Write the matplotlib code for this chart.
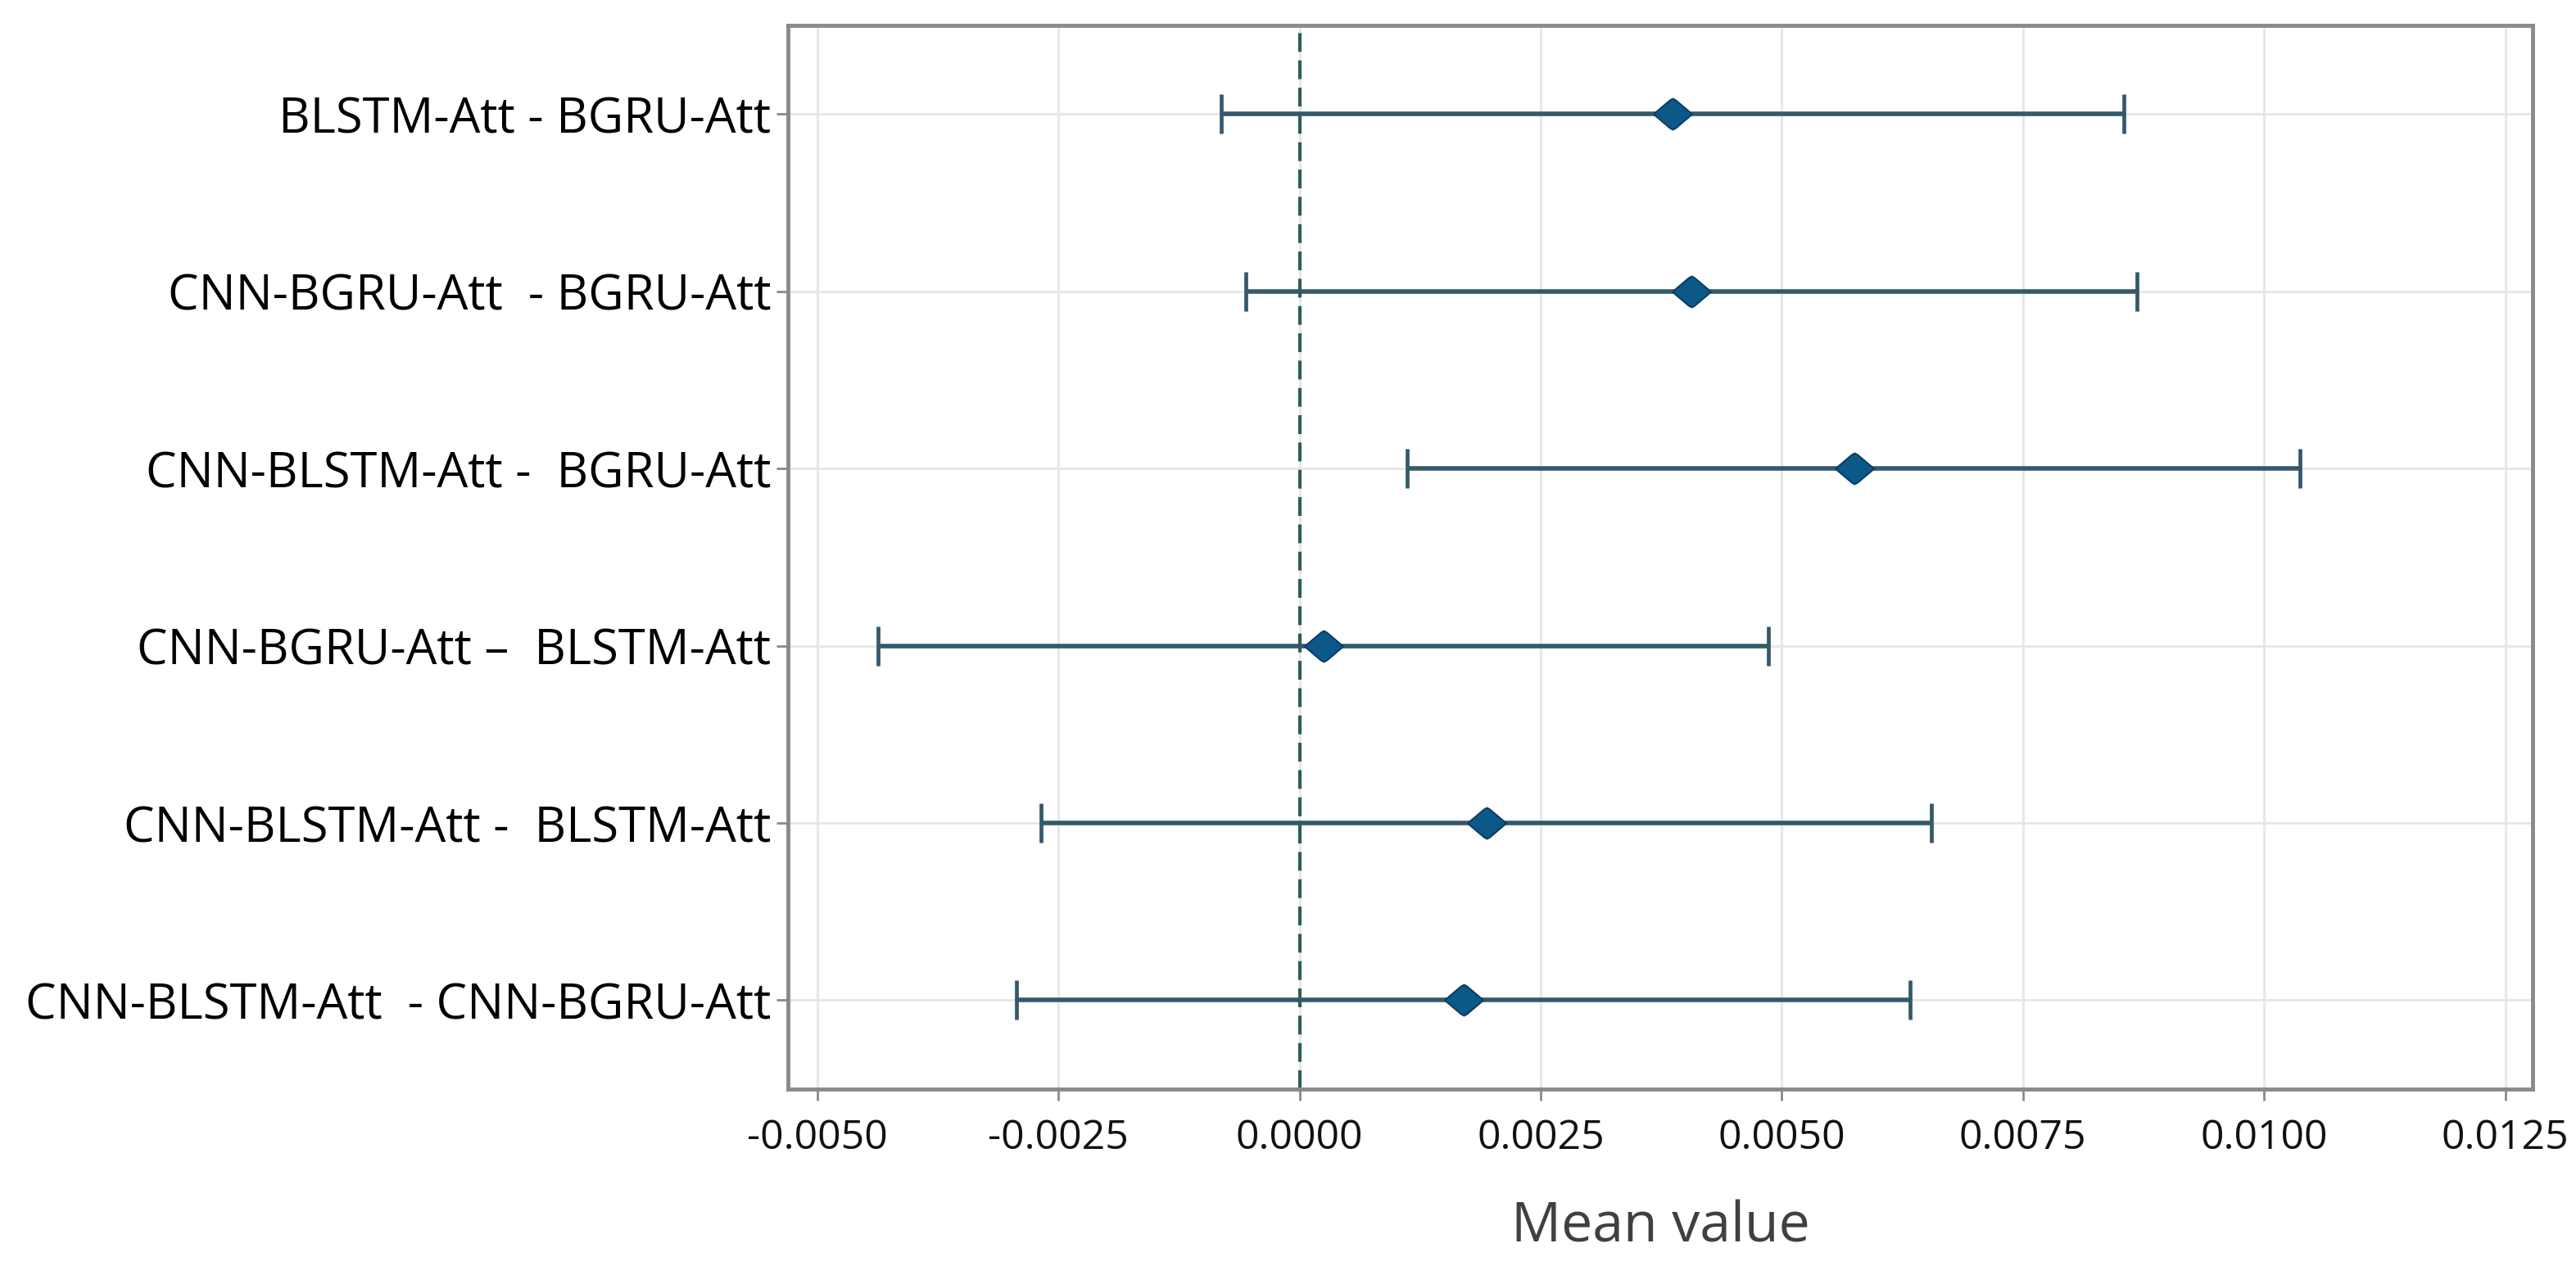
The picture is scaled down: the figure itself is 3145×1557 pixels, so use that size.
import numpy as np
import matplotlib.pyplot as plt

# pairwise differences of mean value with confidence intervals
labels = ['BLSTM-Att - BGRU-Att',
          'CNN-BGRU-Att  - BGRU-Att',
          'CNN-BLSTM-Att -  BGRU-Att',
          'CNN-BGRU-Att \u2013  BLSTM-Att',
          'CNN-BLSTM-Att -  BLSTM-Att',
          'CNN-BLSTM-Att  - CNN-BGRU-Att']
means = [0.00387, 0.00406, 0.00575, 0.00025, 0.00194, 0.00170]
lower = [-0.00081, -0.00056, 0.00112, -0.00437, -0.00268, -0.00293]
upper = [0.00855, 0.00868, 0.01037, 0.00486, 0.00655, 0.00633]
xticks = [-0.0050, -0.0025, 0.0000, 0.0025, 0.0050, 0.0075, 0.0100, 0.0125]

plt.rcParams['font.family'] = ['Open Sans', 'DejaVu Sans']

fig = plt.figure(figsize=(31.45, 15.57), dpi=100)
ax = fig.add_axes([0.306, 0.146, 0.677, 0.834])

y = np.arange(len(labels))
m = np.array(means)
xerr = [m - np.array(lower), np.array(upper) - m]

ax.errorbar(m, y, xerr=xerr, fmt='none', ecolor='#34596a', elinewidth=4,
            capsize=17, capthick=3.4, zorder=3)

# flattened, slightly rounded diamond marker
diamond = [(-1, 0), (-0.15, 0.72), (0, 0.8), (0.15, 0.72), (1, 0),
           (0.15, -0.72), (0, -0.8), (-0.15, -0.72), (-1, 0)]
ax.plot(m, y, linestyle='none', marker=diamond, markersize=34,
        markerfacecolor='#0b5889', markeredgecolor='#0a3f63',
        markeredgewidth=1.5, zorder=4)

ax.axvline(0, color='#2d5e55', linewidth=3, dashes=(5.5, 2.5), zorder=2)

ax.set_xlim(-0.0053, 0.01278)
ax.set_ylim(len(labels) - 0.5, -0.5)
ax.set_xticks(xticks)
ax.set_xticklabels(['%.4f' % v for v in xticks], fontsize=36)
ax.set_yticks(y)
ax.set_yticklabels(labels, fontsize=43)

ax.grid(True, color='#e6e6e6', linewidth=2, zorder=0)
ax.set_axisbelow(True)
for s in ax.spines.values():
    s.set_color('#8a8a8a')
    s.set_linewidth(3.5)
ax.tick_params(axis='both', colors='#8a8a8a', width=2, length=10)
ax.tick_params(axis='x', pad=16, labelcolor='#111111')
ax.tick_params(axis='y', pad=5, labelcolor='#000000')

ax.set_xlabel('Mean value', fontsize=49, color='#404040', labelpad=36)

plt.savefig('out.png', dpi=100)
